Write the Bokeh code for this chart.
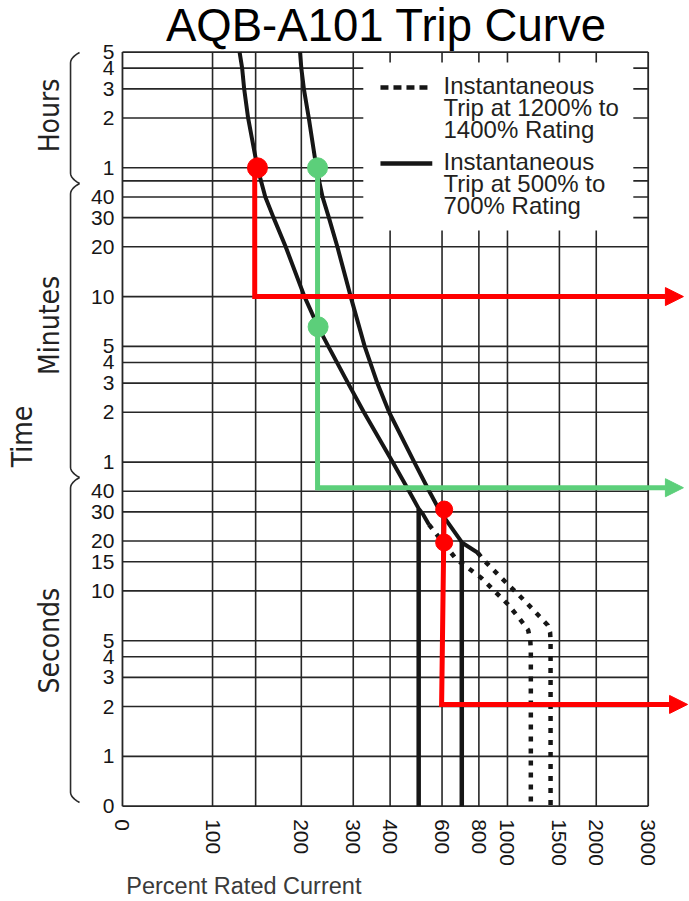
import math
from bokeh.plotting import figure
from bokeh.models import Range1d, FixedTicker, Arrow, NormalHead
from bokeh.core.properties import value
from bokeh.embed import file_html
from bokeh.resources import INLINE

# ---------------- data ----------------
title_text = "AQB-A101 Trip Curve"
x_label_text = "Percent Rated Current"

x_min, x_max = 49.5, 3000          # "0" .. 3000 percent
y_min, y_max = 0.5, 18000          # seconds ("0" s .. 5 h)

x_ticks = [49.5, 100, 200, 300, 400, 600, 800, 1000, 1500, 2000, 3000]
x_tick_labels = ["0", "100", "200", "300", "400", "600", "800", "1000", "1500", "2000", "3000"]
x_grid = [100, 140, 200, 300, 400, 600, 800, 1000, 1500, 2000]

y_ticks = [18000, 14400, 10800, 7200, 3600, 2400, 1800, 1200, 600, 300, 240, 180, 120,
           60, 40, 30, 20, 15, 10, 5, 4, 3, 2, 1, 0.5]
y_tick_labels = ["5", "4", "3", "2", "1", "40", "30", "20", "10", "5", "4", "3", "2",
                 "1", "40", "30", "20", "15", "10", "5", "4", "3", "2", "1", "0"]
y_grid = [14400, 10800, 7200, 3600, 3000, 2400, 1800, 1200, 600, 300, 240, 180, 120,
          60, 40, 30, 20, 15, 10, 5, 4, 3, 2, 1]

# band with instantaneous trip at 500% .. 700% (solid)
lo_curve_x = [123.5, 126, 128, 132, 142, 151, 161, 177, 205, 228, 247, 288, 326, 408, 464, 500, 516, 542]
lo_curve_y = [18000, 14400, 10800, 7200, 3600, 2400, 1800, 1200, 600, 394, 300, 180, 120, 60, 40, 31.4, 29.2, 25.1]
hi_curve_x = [198, 200, 204, 212, 225, 236, 248, 265, 294, 328, 362, 397, 483, 543, 592, 696, 700, 793]
hi_curve_y = [18000, 14400, 10800, 7200, 3600, 2400, 1800, 1200, 600, 300, 180, 120, 60, 40, 30, 20, 19.6, 17.0]
inst_lo_solid = 500
inst_lo_solid_top = 31.4
inst_hi_solid = 700
inst_hi_solid_top = 19.6

# band with instantaneous trip at 1200% .. 1400% (dotted continuation)
lo_dot_x = [542, 669, 814, 903, 1003, 1113, 1175, 1195, 1200, 1200]
lo_dot_y = [25.1, 15.6, 12.0, 10.0, 8.3, 6.6, 5.8, 5.0, 4.4, 0.5]
hi_dot_x = [793, 835, 915, 990, 1071, 1173, 1285, 1370, 1395, 1400, 1400]
hi_dot_y = [17.0, 15.2, 12.9, 11.2, 9.8, 8.3, 7.0, 6.2, 5.6, 5.0, 0.5]

# reading guides
red1_dot_x, red1_dot_y = [142], [3600]
red1_path_x, red1_path_y = [139, 139], [3600, 600]
red1_arrow = (139, 600, 3950, 600)

green_dot_x, green_dot_y = [227, 228], [3600, 394]
green_path_x, green_path_y = [227, 227], [3600, 42]
green_arrow = (227, 42, 3950, 42)

red2_dot_x, red2_dot_y = [610, 610], [31, 19.6]
red2_path_x, red2_path_y = [610, 598], [31, 2.06]
red2_arrow = (598, 2.06, 4080, 2.06)

legend_lines_1 = ["Instantaneous", "Trip at 1200% to", "1400% Rating"]
legend_lines_2 = ["Instantaneous", "Trip at 500% to", "700% Rating"]

# time groups (top, bottom of each brace in seconds)
groups = ["Hours", "Minutes", "Seconds"]
group_spans = [(17910, 2893), (2893, 48.4), (48.4, 0.526)]
group_mid = [7456, 402, 5.0]

# ---------------- figure ----------------
RED = "#ff0000"
GREEN = "#5ccf7a"
INK = "#161616"
GRID = "#262626"

W, H = 689, 900
p = figure(width=W, height=H, title=None,
           x_axis_type="log", y_axis_type="log",
           x_range=Range1d(19.10, 4142), y_range=Range1d(0.13462, 36915),
           output_backend="svg", toolbar_location=None,
           min_border_left=0, min_border_right=0, min_border_top=0, min_border_bottom=0)
p.outline_line_color = None
p.xgrid.visible = False
p.ygrid.visible = False
p.background_fill_color = "white"
p.border_fill_color = "white"

for ax in (p.xaxis, p.yaxis):
    ax.axis_line_color = None
    ax.major_tick_line_color = None
    ax.minor_tick_line_color = None
    ax.major_label_text_font = "Liberation Sans"
    ax.major_label_text_font_size = "21px"
    ax.major_label_text_color = "#161616"

p.xaxis.fixed_location = y_min
p.yaxis.fixed_location = x_min
p.xaxis.ticker = FixedTicker(ticks=x_ticks)
p.xaxis.major_label_overrides = dict(zip(x_ticks, x_tick_labels))
p.xaxis.major_label_orientation = "vertical"
p.xaxis.major_label_standoff = 7
p.yaxis.ticker = FixedTicker(ticks=y_ticks)
p.yaxis.major_label_overrides = dict(zip(y_ticks, y_tick_labels))
p.yaxis.major_label_standoff = 2

# grid + border
p.segment(x0=x_grid, y0=[y_min] * len(x_grid), x1=x_grid, y1=[y_max] * len(x_grid),
          line_color=GRID, line_width=1.6)
p.segment(x0=[x_min] * len(y_grid), y0=y_grid, x1=[x_max] * len(y_grid), y1=y_grid,
          line_color=GRID, line_width=1.6)
p.segment(x0=[x_min, x_max, x_min, x_min], y0=[y_min, y_min, y_min, y_max],
          x1=[x_min, x_max, x_max, x_max], y1=[y_max, y_max, y_min, y_max],
          line_color=GRID, line_width=1.8)

# legend box
p.quad(left=324.5, right=2671, bottom=1505, top=15585, fill_color="white", line_color=None)
p.line([371, 552], [11004, 11004], line_color=INK, line_width=4.5, line_dash="8 5")
p.line([371, 556], [3824, 3824], line_color=INK, line_width=4.5)
leg_y1 = [11236, 8274, 6092]
leg_y2 = [3903, 2874, 2116]
for ys, lines in ((leg_y1, legend_lines_1), (leg_y2, legend_lines_2)):
    p.text(x=[607] * 3, y=ys, text=lines, text_font=value("Liberation Sans"),
           text_font_size="24px", text_color="#231f20", text_baseline="alphabetic")

# curves
p.line(lo_curve_x, lo_curve_y, line_color=INK, line_width=4)
p.line(hi_curve_x, hi_curve_y, line_color=INK, line_width=4)
p.line([inst_lo_solid, inst_lo_solid], [inst_lo_solid_top, y_min], line_color=INK, line_width=4.5)
p.line([inst_hi_solid, inst_hi_solid], [inst_hi_solid_top, y_min], line_color=INK, line_width=4.5)
p.line(lo_dot_x, lo_dot_y, line_color=INK, line_width=4.5, line_dash="5 7")
p.line(hi_dot_x, hi_dot_y, line_color=INK, line_width=4.5, line_dash="5 7")

# reading guides
def guide(px, py, arrow, color):
    p.line(px, py, line_color=color, line_width=5, line_cap="square")
    x0, y0, x1, y1 = arrow
    p.add_layout(Arrow(x_start=x0, y_start=y0, x_end=x1, y_end=y1, line_color=color,
                       line_width=5,
                       end=NormalHead(size=18, fill_color=color, line_color=color, line_width=1)))

guide(red1_path_x, red1_path_y, red1_arrow, RED)
guide(green_path_x, green_path_y, green_arrow, GREEN)
guide(red2_path_x, red2_path_y, red2_arrow, RED)
p.scatter(red1_dot_x, red1_dot_y, size=20, color=RED)
p.scatter(green_dot_x, green_dot_y, size=20, color=GREEN)
p.scatter(red2_dot_x, red2_dot_y, size=17, color=RED)

# title, axis title, time groups
p.text(x=[388.6], y=[26145], text=[title_text], text_font=value("Liberation Sans"),
       text_font_size="45.5px", text_color="black", text_align="center",
       text_baseline="alphabetic")
p.text(x=[51.0], y=[0.1648], text=[x_label_text], text_font=value("Liberation Sans"),
       text_font_size="23.5px", text_color="#3a3a3a", text_align="left", text_baseline="alphabetic")
narrow = value("'Liberation Sans Narrow', 'DejaVu Sans Condensed', Roboto")
p.text(x=[22.65], y=[85.7], text=["Time"], angle=math.pi / 2, text_font=narrow,
       text_font_size="28px", text_color="#222222", text_align="center", text_baseline="middle")
p.text(x=[28.0] * 3, y=group_mid, text=groups, angle=math.pi / 2, text_font=narrow,
       text_font_size="28px", text_color="#222222", text_align="center", text_baseline="middle")


def brace(y_top, y_bot, x_v=33.0, x_t=35.4, d=0.062):
    lt, lb = math.log10(y_top), math.log10(y_bot)
    lxv, lxt = math.log10(x_v), math.log10(x_t)
    steps = [i / 6 for i in range(7)]
    top = [(10 ** (lxv + (lxt - lxv) * (1 - s) ** 2), 10 ** (lt - d * s)) for s in steps]
    bot = [(10 ** (lxv + (lxt - lxv) * (1 - s) ** 2), 10 ** (lb + d * s)) for s in steps][::-1]
    path = top + bot
    return [q[0] for q in path], [q[1] for q in path]


for yt, yb in group_spans:
    bx, by = brace(yt, yb)
    p.line(bx, by, line_color="#2b2b2b", line_width=1.6)

open("out.html", "w").write(file_html(p, INLINE))
